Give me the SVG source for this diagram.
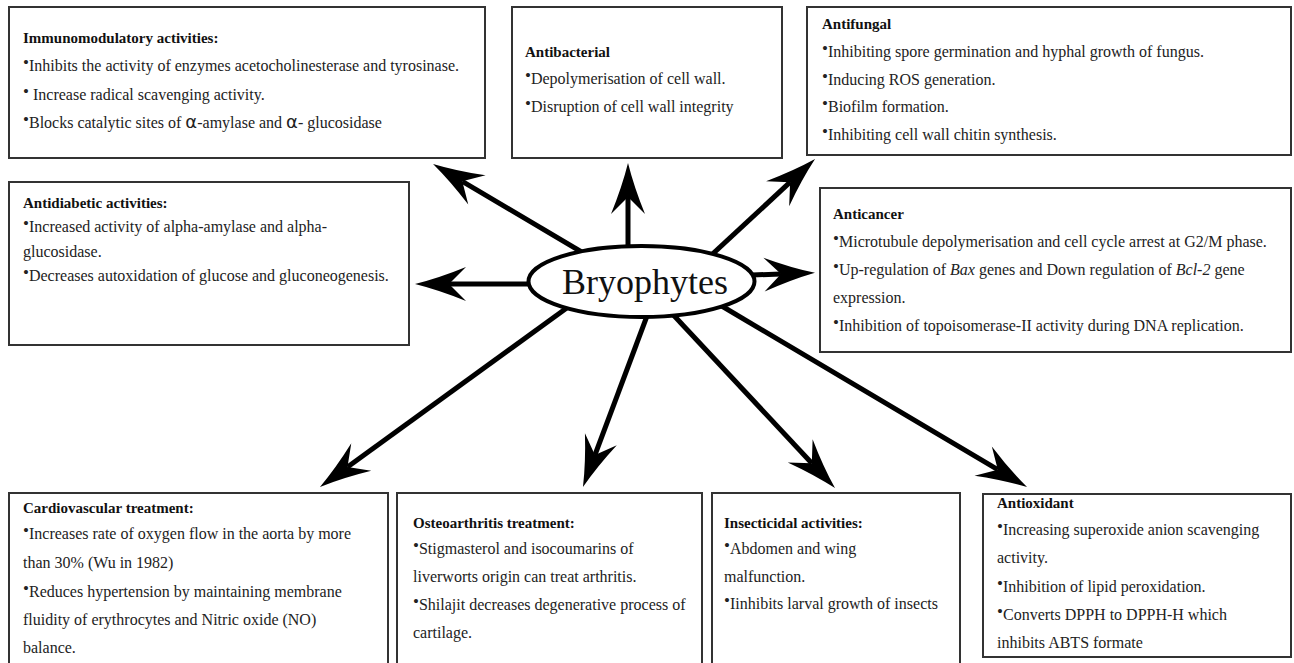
<svg xmlns="http://www.w3.org/2000/svg" width="1294" height="663" viewBox="0 0 1294 663">
<style>
.box{fill:#fff;stroke:#333;stroke-width:2}
.t{font-family:"Liberation Serif","Times New Roman",serif;font-size:16px;fill:#222}
.h{font-weight:bold;font-size:15px;fill:#111}
.bl{font-size:17px;baseline-shift:3px}
.al{font-family:"DejaVu Sans","Liberation Sans",sans-serif;font-size:18px}
.c{fill:none;stroke:#000;stroke-width:5;marker-end:url(#ah)}
</style>
<defs>
<marker id="ah" markerUnits="userSpaceOnUse" markerWidth="60" markerHeight="40" viewBox="-20 -20 60 40" refX="0" refY="0" orient="auto" overflow="visible">
<path d="M34,0 Q10,-6 -17,-17 L0,0 L-17,17 Q10,6 34,0 Z" fill="#000"/>
</marker>
</defs>
<rect width="1294" height="663" fill="#fff"/>

<g id="connectors">
<line class="c" x1="628" y1="260" x2="628" y2="197"/>
<line class="c" x1="590" y1="257" x2="462.3" y2="181.3"/>
<line class="c" x1="705" y1="261" x2="790.1" y2="182.2"/>
<line class="c" x1="545" y1="284" x2="449" y2="284"/>
<line class="c" x1="740" y1="275.5" x2="781" y2="274"/>
<line class="c" x1="575" y1="302" x2="347.5" y2="467.1"/>
<line class="c" x1="650" y1="308" x2="594.9" y2="455.1"/>
<line class="c" x1="665" y1="306" x2="811.8" y2="463.2"/>
<line class="c" x1="715" y1="302" x2="997.8" y2="469.7"/>
</g>

<g id="bryophytes">
<ellipse cx="641.5" cy="281.5" rx="113" ry="35.5" fill="#fff" stroke="#000" stroke-width="4"/>
<text x="645" y="294" text-anchor="middle" font-family="Liberation Serif, serif" font-size="36" fill="#111">Bryophytes</text>
</g>

<g id="immunomodulatory">
<rect class="box" x="9" y="7" width="476" height="151"/>
<text class="t h" x="23" y="43">Immunomodulatory activities:</text>
<text class="t" x="23" y="71"><tspan class="bl">•</tspan>Inhibits the activity of enzymes acetocholinesterase and tyrosinase.</text>
<text class="t" x="23" y="100"><tspan class="bl">•</tspan> Increase radical scavenging activity.</text>
<text class="t" x="23" y="128"><tspan class="bl">•</tspan>Blocks catalytic sites of <tspan class="al">α</tspan>-amylase and <tspan class="al">α</tspan>- glucosidase</text>
</g>

<g id="antibacterial">
<rect class="box" x="512" y="7" width="270" height="151"/>
<text class="t h" x="525" y="57">Antibacterial</text>
<text class="t" x="525" y="84"><tspan class="bl">•</tspan>Depolymerisation of cell wall.</text>
<text class="t" x="525" y="112"><tspan class="bl">•</tspan>Disruption of cell wall integrity</text>
</g>

<g id="antifungal">
<rect class="box" x="807" y="7" width="484" height="148"/>
<text class="t h" x="822" y="29">Antifungal</text>
<text class="t" x="822" y="57"><tspan class="bl">•</tspan>Inhibiting spore germination and hyphal growth of fungus.</text>
<text class="t" x="822" y="85"><tspan class="bl">•</tspan>Inducing ROS generation.</text>
<text class="t" x="822" y="112"><tspan class="bl">•</tspan>Biofilm formation.</text>
<text class="t" x="822" y="140"><tspan class="bl">•</tspan>Inhibiting cell wall chitin synthesis.</text>
</g>

<g id="antidiabetic">
<rect class="box" x="9" y="182" width="400" height="163"/>
<text class="t h" x="23" y="208">Antidiabetic activities:</text>
<text class="t" x="23" y="232"><tspan class="bl">•</tspan>Increased activity of alpha-amylase and alpha-</text>
<text class="t" x="23" y="257">glucosidase.</text>
<text class="t" x="23" y="281"><tspan class="bl">•</tspan>Decreases autoxidation of glucose and gluconeogenesis.</text>
</g>

<g id="anticancer">
<rect class="box" x="820" y="188" width="471" height="164"/>
<text class="t h" x="833" y="219">Anticancer</text>
<text class="t" x="833" y="247"><tspan class="bl">•</tspan>Microtubule depolymerisation and cell cycle arrest at G2/M phase.</text>
<text class="t" x="833" y="275"><tspan class="bl">•</tspan>Up-regulation of <tspan font-style="italic">Bax</tspan> genes and Down regulation of <tspan font-style="italic">Bcl-2</tspan> gene</text>
<text class="t" x="833" y="303">expression.</text>
<text class="t" x="833" y="331"><tspan class="bl">•</tspan>Inhibition of topoisomerase-II activity during DNA replication.</text>
</g>

<g id="cardiovascular">
<rect class="box" x="9" y="493" width="379" height="190"/>
<text class="t h" x="23" y="513">Cardiovascular treatment:</text>
<text class="t" x="23" y="539"><tspan class="bl">•</tspan>Increases rate of oxygen flow in the aorta by more</text>
<text class="t" x="23" y="568">than 30% (Wu in 1982)</text>
<text class="t" x="23" y="597"><tspan class="bl">•</tspan>Reduces hypertension by maintaining membrane</text>
<text class="t" x="23" y="625">fluidity of erythrocytes and Nitric oxide (NO)</text>
<text class="t" x="23" y="653">balance.</text>
</g>

<g id="osteoarthritis">
<rect class="box" x="397" y="493" width="305" height="190"/>
<text class="t h" x="413" y="528">Osteoarthritis treatment:</text>
<text class="t" x="413" y="554"><tspan class="bl">•</tspan>Stigmasterol and isocoumarins of</text>
<text class="t" x="413" y="582">liverworts origin can treat arthritis.</text>
<text class="t" x="413" y="610"><tspan class="bl">•</tspan>Shilajit decreases degenerative process of</text>
<text class="t" x="413" y="638">cartilage.</text>
</g>

<g id="insecticidal">
<rect class="box" x="712" y="493" width="248" height="190"/>
<text class="t h" x="724" y="528">Insecticidal activities:</text>
<text class="t" x="724" y="554"><tspan class="bl">•</tspan>Abdomen and wing</text>
<text class="t" x="724" y="582">malfunction.</text>
<text class="t" x="724" y="609"><tspan class="bl">•</tspan>Iinhibits larval growth of insects</text>
</g>

<g id="antioxidant">
<rect class="box" x="983" y="494" width="308" height="163"/>
<text class="t h" x="997" y="508">Antioxidant</text>
<text class="t" x="997" y="535"><tspan class="bl">•</tspan>Increasing superoxide anion scavenging</text>
<text class="t" x="997" y="563">activity.</text>
<text class="t" x="997" y="592"><tspan class="bl">•</tspan>Inhibition of lipid peroxidation.</text>
<text class="t" x="997" y="620"><tspan class="bl">•</tspan>Converts DPPH to DPPH-H which</text>
<text class="t" x="997" y="648">inhibits ABTS formate</text>
</g>
</svg>
